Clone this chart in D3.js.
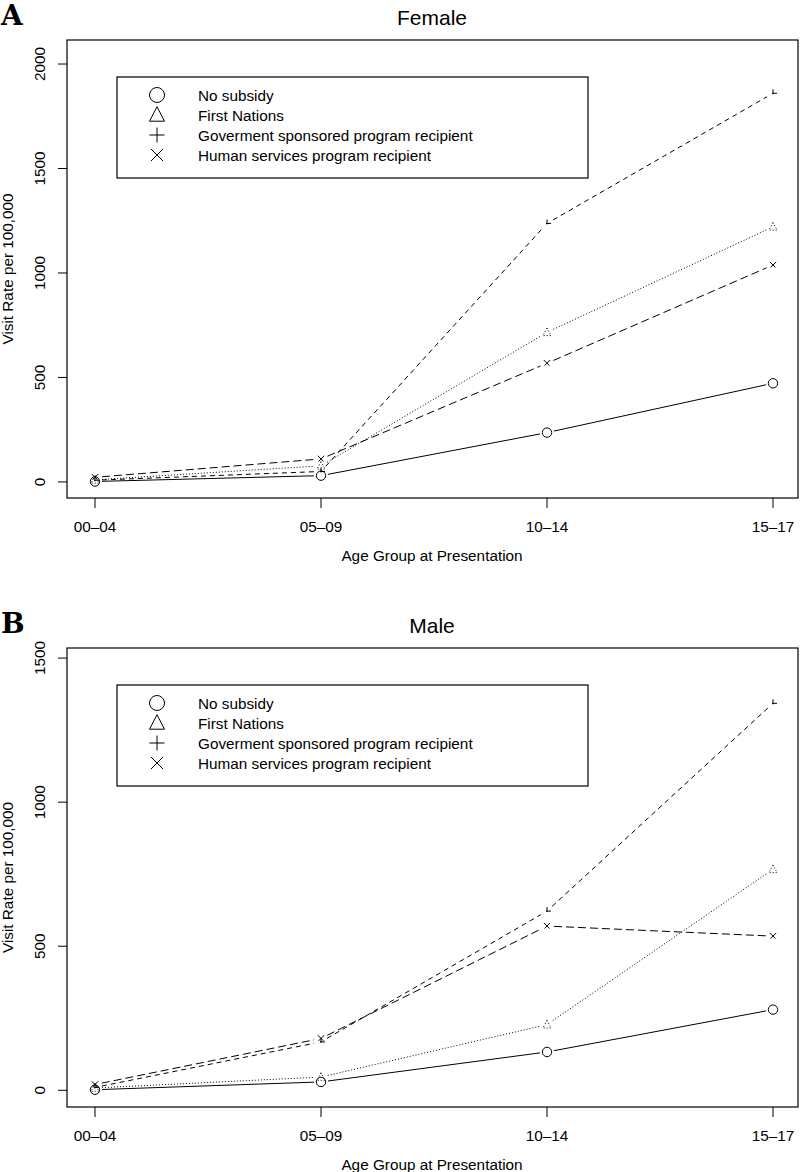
<!doctype html>
<html>
<head>
<meta charset="utf-8">
<script src="https://cdnjs.cloudflare.com/ajax/libs/d3/7.8.5/d3.min.js"></script>
<style>
  body { margin: 0; background: #fff; }
  text { font-family: "Liberation Sans", Arial, Helvetica, sans-serif; fill: #000; }
</style>
</head>
<body>
<svg id="chart" width="800" height="1172"></svg>
<script>
// categories and legend
var ageGroups = ["00\u201304", "05\u201309", "10\u201314", "15\u201317"];
var seriesNames = ["No subsidy", "First Nations",
                   "Goverment sponsored program recipient", "Human services program recipient"];

// visit rate per 100,000
var femaleNoSubsidy    = [2, 30, 236, 472];
var femaleFirstNations = [10, 77, 716, 1221];
var femaleGovernment   = [8, 50, 1237, 1860];
var femaleHuman        = [22, 110, 568, 1038];

var maleNoSubsidy      = [2, 29, 133, 280];
var maleFirstNations   = [8, 46, 228, 767];
var maleGovernment     = [10, 168, 622, 1343];
var maleHuman          = [20, 180, 570, 535];

var femaleTicks = [0, 500, 1000, 1500, 2000];
var maleTicks   = [0, 500, 1000, 1500];

// one style per series: symbol + line type
var styles = [
    {sym: "circle",   dash: null},
    {sym: "triangle", dash: "1,2"},
    {sym: "plus",     dash: "5,4"},
    {sym: "cross",    dash: "8,4"}
];

var svg = d3.select("#chart");
var fs = "15.3px";

var x = d3.scalePoint().domain(ageGroups).range([95, 773]);

function symbolPath(sym, cx, cy, r) {
    if (sym == "circle") {
        return "M" + (cx - r) + "," + cy + "a" + r + "," + r + " 0 1,0 " + (2 * r) + ",0"
             + "a" + r + "," + r + " 0 1,0 " + (-2 * r) + ",0";
    }
    if (sym == "triangle") {
        var h = r * 1.1;
        return "M" + cx + "," + (cy - h) + "L" + (cx + r) + "," + (cy + h * 0.75)
             + "L" + (cx - r) + "," + (cy + h * 0.75) + "Z";
    }
    if (sym == "plus") {
        return "M" + (cx + r) + "," + cy + "L" + (cx - r) + "," + cy
             + "M" + cx + "," + (cy - r) + "L" + cx + "," + (cy + r);
    }
    // cross
    var s = r * 0.8;
    return "M" + (cx - s) + "," + (cy - s) + "L" + (cx + s) + "," + (cy + s)
         + "M" + (cx + s) + "," + (cy - s) + "L" + (cx - s) + "," + (cy + s);
}

function drawPanel(p) {
    var g = svg.append("g");
    var left = 67, right = 798;
    var y = d3.scaleLinear().domain(p.domain).range([p.bottom, p.top]);

    // panel letter and title
    g.append("text").attr("x", 1).attr("y", p.top - 15)
        .style("font-family", "'DejaVu Serif', serif").style("font-weight", "bold")
        .style("font-size", "28px").text(p.letter);
    g.append("text").attr("x", 432).attr("y", p.top - 15).attr("text-anchor", "middle")
        .style("font-size", "21px").text(p.title);

    // box
    g.append("rect").attr("x", left).attr("y", p.top)
        .attr("width", right - left).attr("height", p.bottom - p.top)
        .attr("fill", "none").attr("stroke", "#000").attr("stroke-width", 1.2);

    // x axis
    g.selectAll("line.xt").data(ageGroups).enter().append("line")
        .attr("x1", d => x(d)).attr("x2", d => x(d))
        .attr("y1", p.bottom).attr("y2", p.bottom + 10)
        .attr("stroke", "#000");
    g.selectAll("text.xt").data(ageGroups).enter().append("text")
        .attr("x", d => x(d)).attr("y", p.bottom + 34)
        .attr("text-anchor", "middle").style("font-size", fs).text(d => d);
    g.append("text").attr("x", 432).attr("y", p.bottom + 63)
        .attr("text-anchor", "middle").style("font-size", fs)
        .text("Age Group at Presentation");

    // y axis
    g.selectAll("line.yt").data(p.ticks).enter().append("line")
        .attr("x1", left - 9).attr("x2", left)
        .attr("y1", d => y(d)).attr("y2", d => y(d))
        .attr("stroke", "#000");
    g.selectAll("text.yt").data(p.ticks).enter().append("text")
        .attr("transform", d => "translate(45," + y(d) + ") rotate(-90)")
        .attr("text-anchor", "middle").style("font-size", fs).text(d => d);
    g.append("text")
        .attr("transform", "translate(13," + ((p.top + p.bottom) / 2) + ") rotate(-90)")
        .attr("text-anchor", "middle").style("font-size", fs)
        .text("Visit Rate per 100,000");

    // series: lines with gaps around the points, as in type="b"
    var gap = 7;
    p.series.forEach(function (vals, si) {
        var st = styles[si];
        var pts = vals.map((v, i) => [x(ageGroups[i]), y(v)]);
        var segs = [];
        for (var i = 0; i < pts.length - 1; i++) {
            var a = pts[i], b = pts[i + 1];
            var dx = b[0] - a[0], dy = b[1] - a[1];
            var len = Math.sqrt(dx * dx + dy * dy);
            if (len > 2 * gap) {
                var ux = dx / len, uy = dy / len;
                segs.push([a[0] + ux * gap, a[1] + uy * gap, b[0] - ux * gap, b[1] - uy * gap]);
            }
        }
        g.selectAll("line.s" + si).data(segs).enter().append("line")
            .attr("x1", d => d[0]).attr("y1", d => d[1])
            .attr("x2", d => d[2]).attr("y2", d => d[3])
            .attr("stroke", "#000").attr("stroke-width", 1)
            .attr("stroke-dasharray", st.dash);
        g.selectAll("path.s" + si).data(pts).enter().append("path")
            .attr("d", d => symbolPath(st.sym, d[0], d[1], st.sym == "circle" ? 4.7 : 4))
            .attr("fill", "none").attr("stroke", "#000").attr("stroke-width", 1)
            .attr("stroke-dasharray", st.dash);
    });

    // legend
    var lg = g.append("g");
    lg.append("rect").attr("x", 117).attr("y", p.legendTop)
        .attr("width", 471).attr("height", 101)
        .attr("fill", "#fff").attr("stroke", "#000").attr("stroke-width", 1.2);
    seriesNames.forEach(function (name, i) {
        var cy = p.legendTop + 18 + i * 20;
        lg.append("path").attr("d", symbolPath(styles[i].sym, 157, cy, 7.5))
            .attr("fill", "none").attr("stroke", "#000").attr("stroke-width", 1);
        lg.append("text").attr("x", 198).attr("y", cy + 5.5)
            .style("font-size", fs).text(name);
    });
}

drawPanel({
    letter: "A", title: "Female",
    top: 40, bottom: 498, domain: [-77, 2115], ticks: femaleTicks, legendTop: 77,
    series: [femaleNoSubsidy, femaleFirstNations, femaleGovernment, femaleHuman]
});

drawPanel({
    letter: "B", title: "Male",
    top: 648, bottom: 1107, domain: [-58, 1535], ticks: maleTicks, legendTop: 685,
    series: [maleNoSubsidy, maleFirstNations, maleGovernment, maleHuman]
});
</script>
</body>
</html>
